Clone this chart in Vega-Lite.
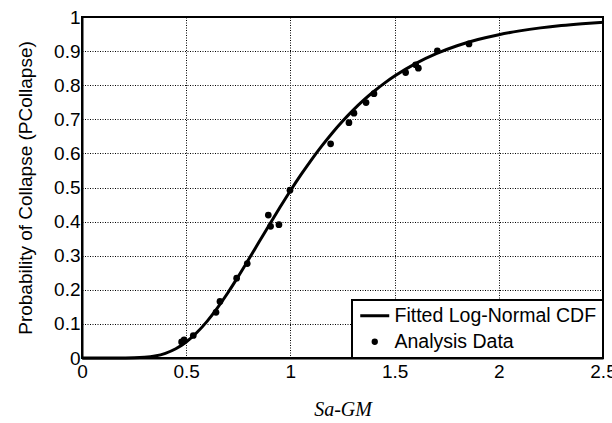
{
  "$schema": "https://vega.github.io/schema/vega-lite/v6.json",
  "width": 521,
  "height": 341,
  "autosize": {"type": "none"},
  "padding": {"left": 82, "top": 17, "right": 9, "bottom": 65},
  "background": "white",
  "config": {
    "view": {"stroke": "black", "strokeWidth": 2},
    "font": "Liberation Sans",
    "axis": {
      "domainColor": "black",
      "domainWidth": 2,
      "ticks": false,
      "labelColor": "black",
      "labelFont": "Liberation Sans",
      "labelFontSize": 19,
      "labelFlush": false,
      "grid": true,
      "gridColor": "black",
      "gridDash": [1, 1.5],
      "gridWidth": 1,
      "gridOpacity": 1,
      "titleColor": "black",
      "titleFontWeight": "normal"
    }
  },
  "datasets": {
    "curve": [
      {"x": 0, "p": 0},
      {"x": 0.1, "p": 0},
      {"x": 0.15, "p": 0},
      {"x": 0.2, "p": 0.0001},
      {"x": 0.25, "p": 0.0004},
      {"x": 0.3, "p": 0.0019},
      {"x": 0.35, "p": 0.0058},
      {"x": 0.4, "p": 0.0137},
      {"x": 0.45, "p": 0.0271},
      {"x": 0.5, "p": 0.0471},
      {"x": 0.55, "p": 0.0739},
      {"x": 0.6, "p": 0.1075},
      {"x": 0.65, "p": 0.147},
      {"x": 0.7, "p": 0.1913},
      {"x": 0.75, "p": 0.2393},
      {"x": 0.8, "p": 0.2895},
      {"x": 0.85, "p": 0.3406},
      {"x": 0.9, "p": 0.3918},
      {"x": 0.95, "p": 0.442},
      {"x": 1.0, "p": 0.4906},
      {"x": 1.05, "p": 0.5368},
      {"x": 1.1, "p": 0.5805},
      {"x": 1.15, "p": 0.6213},
      {"x": 1.2, "p": 0.6593},
      {"x": 1.25, "p": 0.6941},
      {"x": 1.3, "p": 0.7261},
      {"x": 1.35, "p": 0.7552},
      {"x": 1.4, "p": 0.7815},
      {"x": 1.45, "p": 0.8054},
      {"x": 1.5, "p": 0.8268},
      {"x": 1.6, "p": 0.8633},
      {"x": 1.7, "p": 0.8925},
      {"x": 1.8, "p": 0.9156},
      {"x": 1.9, "p": 0.9338},
      {"x": 2.0, "p": 0.9481},
      {"x": 2.1, "p": 0.9593},
      {"x": 2.2, "p": 0.9681},
      {"x": 2.3, "p": 0.975},
      {"x": 2.4, "p": 0.9803},
      {"x": 2.5, "p": 0.9845}
    ],
    "pts": [
      {"x": 0.478, "p": 0.047},
      {"x": 0.49, "p": 0.053},
      {"x": 0.534, "p": 0.066},
      {"x": 0.643, "p": 0.134},
      {"x": 0.662, "p": 0.166},
      {"x": 0.742, "p": 0.234},
      {"x": 0.793, "p": 0.277},
      {"x": 0.894, "p": 0.419},
      {"x": 0.905, "p": 0.386},
      {"x": 0.945, "p": 0.391},
      {"x": 0.998, "p": 0.492},
      {"x": 1.193, "p": 0.628},
      {"x": 1.281, "p": 0.69},
      {"x": 1.305, "p": 0.718},
      {"x": 1.363, "p": 0.749},
      {"x": 1.401, "p": 0.775},
      {"x": 1.553, "p": 0.837},
      {"x": 1.601, "p": 0.86},
      {"x": 1.614, "p": 0.85},
      {"x": 1.705, "p": 0.901},
      {"x": 1.857, "p": 0.921}
    ]
  },
  "encoding": {
    "x": {
      "field": "x",
      "type": "quantitative",
      "scale": {"domain": [0, 2.5], "nice": false, "zero": false},
      "axis": {
        "values": [0, 0.5, 1, 1.5, 2, 2.5],
        "format": "~g",
        "labelPadding": 4,
        "title": "Sa-GM",
        "titleFont": "Liberation Serif",
        "titleFontStyle": "italic",
        "titleFontSize": 20,
        "titlePadding": 18
      }
    },
    "y": {
      "field": "p",
      "type": "quantitative",
      "scale": {"domain": [0, 1], "nice": false},
      "axis": {
        "values": [0, 0.1, 0.2, 0.3, 0.4, 0.5, 0.6, 0.7, 0.8, 0.9, 1],
        "format": "~g",
        "labelPadding": 2,
        "title": "Probability of Collapse (PCollapse)",
        "titleFont": "Liberation Sans",
        "titleFontSize": 19,
        "titlePadding": 18
      }
    }
  },
  "layer": [
    {
      "data": {"name": "curve"},
      "mark": {"type": "line", "strokeWidth": 3, "interpolate": "monotone"},
      "encoding": {
        "color": {
          "datum": "Fitted Log-Normal CDF",
          "scale": {"domain": ["Fitted Log-Normal CDF", "Analysis Data"], "range": ["black", "black"]},
          "legend": {
            "orient": "bottom-right",
            "offset": 0,
            "title": null,
            "fillColor": "white",
            "strokeColor": "black",
            "padding": 6,
            "labelFont": "Liberation Sans",
            "labelFontSize": 19.5,
            "labelColor": "black",
            "labelLimit": 400,
            "labelOffset": 10,
            "symbolOffset": 7,
            "symbolSize": 841,
            "rowPadding": 5,
            "encode": {
              "legend": {"update": {"strokeWidth": {"value": 2}}},
              "symbols": {
                "update": {
                  "shape": {"signal": "datum.value === 'Analysis Data' ? 'circle' : 'stroke'"},
                  "size": {"signal": "datum.value === 'Analysis Data' ? 40 : 841"},
                  "fill": {"signal": "datum.value === 'Analysis Data' ? 'black' : 'transparent'"},
                  "stroke": {"value": "black"},
                  "strokeWidth": {"signal": "datum.value === 'Analysis Data' ? 0 : 3"},
                  "opacity": {"value": 1},
                  "fillOpacity": {"value": 1},
                  "strokeOpacity": {"value": 1}
                }
              }
            }
          }
        }
      }
    },
    {
      "data": {"name": "pts"},
      "mark": {"type": "circle", "size": 45, "opacity": 1},
      "encoding": {
        "color": {"datum": "Analysis Data"}
      }
    }
  ]
}
